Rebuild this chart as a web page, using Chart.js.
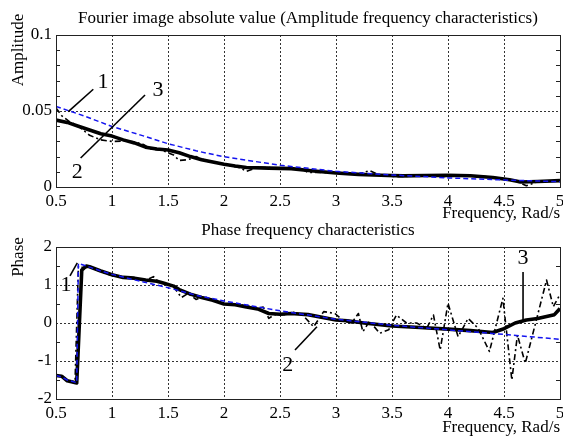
<!DOCTYPE html>
<html>
<head>
<meta charset="utf-8">
<script src="https://cdn.jsdelivr.net/npm/chart.js@4.4.0/dist/chart.umd.min.js"></script>
<style>
  html, body { margin: 0; padding: 0; background: #fff; }
  #wrap { position: relative; width: 563px; height: 436px; overflow: hidden; }
  canvas { position: absolute; left: 0; }
  #ampCanvas { top: 0; }
  #phaseCanvas { top: 222px; }
</style>
</head>
<body>
<div id="wrap">
  <canvas id="ampCanvas" width="563" height="228"></canvas>
  <canvas id="phaseCanvas" width="563" height="214"></canvas>
</div>
<script>
// --- amplitude plot (top) ---
// 1: model (blue dashed), 2: raw estimate (dash-dot), 3: smoothed estimate (thick)
const ampFreq1 = [0.5, 0.75, 1, 1.25, 1.5, 1.75, 2, 2.5, 3, 3.5, 4, 4.5, 5];
const ampCurve1 = [0.053, 0.0468, 0.0398, 0.0343, 0.0285, 0.0238, 0.0199, 0.0143, 0.0103, 0.0079, 0.006, 0.0046, 0.0035];

const ampFreq2 = [0.5, 0.55, 0.62, 0.7, 0.75, 0.8, 0.9, 1.0, 1.1, 1.2, 1.28, 1.35, 1.45, 1.55, 1.6, 1.68, 1.75, 1.85, 2.0, 2.15, 2.2, 2.3, 2.5, 2.7, 2.75, 2.9, 3.0, 3.2, 3.3, 3.4, 3.55, 3.8, 3.95, 4.1, 4.3, 4.5, 4.62, 4.7, 4.8, 5.0];
const ampCurve2 = [0.052, 0.047, 0.043, 0.04, 0.037, 0.034, 0.031, 0.03, 0.0302, 0.0298, 0.028, 0.025, 0.024, 0.021, 0.0175, 0.018, 0.02, 0.017, 0.015, 0.0125, 0.0102, 0.013, 0.0125, 0.0115, 0.0095, 0.0095, 0.009, 0.0085, 0.0108, 0.0075, 0.0068, 0.0075, 0.0068, 0.0078, 0.0072, 0.0055, 0.0035, 0.0008, 0.0035, 0.0042];

const ampFreq3 = [0.5, 0.6, 0.7, 0.8, 0.9, 1.0, 1.1, 1.2, 1.3, 1.4, 1.5, 1.6, 1.7, 1.8, 1.9, 2.0, 2.1, 2.2, 2.4, 2.6, 2.8, 3.0, 3.2, 3.4, 3.6, 3.8, 4.0, 4.2, 4.4, 4.55, 4.65, 4.8, 5.0];
const ampCurve3 = [0.044, 0.0425, 0.04, 0.0375, 0.035, 0.0335, 0.031, 0.029, 0.0262, 0.025, 0.0243, 0.0225, 0.02, 0.018, 0.0165, 0.015, 0.0138, 0.0128, 0.0124, 0.0121, 0.0105, 0.0092, 0.0083, 0.0077, 0.0073, 0.0076, 0.0077, 0.0074, 0.0062, 0.0048, 0.0033, 0.0036, 0.0042];

const ampTicks = [0, 0.05, 0.1];
const ampMinor = [0.01, 0.02, 0.03, 0.04, 0.06, 0.07, 0.08, 0.09];

// --- phase plot (bottom) ---
const phFreq1 = [0.5, 0.55, 0.6, 0.685, 0.7, 0.8, 0.9, 1.0, 1.25, 1.5, 1.75, 2.0, 2.25, 2.5, 3.0, 3.5, 4.0, 4.5, 5.0];
const phCurve1 = [-1.38, -1.42, -1.5, -1.57, 1.57, 1.47, 1.37, 1.28, 1.1, 0.93, 0.73, 0.58, 0.45, 0.32, 0.1, -0.06, -0.18, -0.3, -0.43];

const phFreq2 = [0.5, 0.55, 0.6, 0.67, 0.7, 0.75, 0.8, 0.9, 1.0, 1.1, 1.2, 1.3, 1.37, 1.42, 1.5, 1.55, 1.62, 1.68, 1.75, 1.82, 1.9, 2.0, 2.1, 2.2, 2.28, 2.35, 2.4, 2.45, 2.55, 2.62, 2.7, 2.8, 2.89, 2.99, 3.07, 3.14, 3.2, 3.24, 3.3, 3.39, 3.47, 3.54, 3.63, 3.72, 3.81, 3.87, 3.93, 4.0, 4.09, 4.18, 4.27, 4.37, 4.49, 4.57, 4.62, 4.69, 4.88, 4.94, 5.0];
const phCurve2 = [-1.38, -1.4, -1.52, -1.55, 1.5, 1.45, 1.47, 1.35, 1.25, 1.2, 1.17, 1.12, 1.22, 1.07, 1.02, 0.95, 0.67, 0.78, 0.62, 0.7, 0.6, 0.5, 0.47, 0.47, 0.36, 0.42, 0.12, 0.22, 0.22, 0.28, 0.22, -0.1, 0.3, 0.25, 0.05, 0.0, 0.25, -0.23, 0.05, -0.27, -0.18, 0.21, 0.0, 0.0, -0.14, 0.21, -0.71, 0.52, -0.36, 0.12, -0.14, -0.75, 0.65, -1.5, -0.32, -1.06, 1.13, 0.43, 0.75];

const phFreq3 = [0.5, 0.55, 0.6, 0.685, 0.73, 0.77, 0.8, 0.9, 1.0, 1.1, 1.2, 1.3, 1.4, 1.45, 1.55, 1.6, 1.7, 1.8, 1.9, 2.0, 2.1, 2.2, 2.3, 2.4, 2.5, 2.6, 2.75, 3.0, 3.1, 3.25, 3.5, 3.75, 4.0, 4.2, 4.4, 4.5, 4.6, 4.7, 4.8, 4.95, 5.0];
const phCurve3 = [-1.38, -1.4, -1.52, -1.58, 1.39, 1.5, 1.48, 1.37, 1.27, 1.2, 1.18, 1.13, 1.1, 1.06, 0.97, 0.88, 0.76, 0.67, 0.6, 0.5, 0.48, 0.42, 0.37, 0.25, 0.23, 0.25, 0.22, 0.08, 0.06, 0.0, -0.08, -0.12, -0.16, -0.2, -0.25, -0.15, 0.0, 0.08, 0.12, 0.22, 0.38];

const phTicks = [-2, -1, 0, 1, 2];
const phMinor = [-1.5, -0.5, 0.5, 1.5];

const freqTicks = [0.5, 1, 1.5, 2, 2.5, 3, 3.5, 4, 4.5, 5];

// curve labels with leader lines, in data units
const ampNotes = [
  { text: '1', x: 0.92, y: 0.069, from: [0.833, 0.0643], to: [0.61, 0.0496] },
  { text: '3', x: 1.41, y: 0.0638, from: [1.295, 0.0605], to: [0.72, 0.0191] },
  { text: '2', x: 0.69, y: 0.0099, from: null, to: null }
];
const phNotes = [
  { text: '1', x: 0.59, y: 1.0, from: [0.625, 1.24], to: [0.69, 1.58] },
  { text: '2', x: 2.57, y: -1.1, from: [2.634, -0.71], to: [2.83, -0.1] },
  { text: '3', x: 4.67, y: 1.71, from: [4.67, 1.34], to: [4.67, 0.08] }
];

Chart.defaults.font.family = "'Liberation Serif', 'Times New Roman', serif";
Chart.defaults.font.size = 17;
Chart.defaults.color = '#000';

const pts = (xs, ys) => xs.map((x, i) => ({ x: x, y: ys[i] }));

const matlabAxes = {
  id: 'matlabAxes',
  beforeDatasetsDraw(chart, args, o) {
    const { ctx, chartArea: a, scales: { x, y } } = chart;
    ctx.save();
    ctx.strokeStyle = '#333';
    ctx.lineWidth = 1;
    ctx.setLineDash([2, 2]);
    ctx.beginPath();
    freqTicks.forEach(v => {
      const px = Math.round(x.getPixelForValue(v)) + 0.5;
      if (px > a.left + 2 && px < a.right - 2) { ctx.moveTo(px, a.top); ctx.lineTo(px, a.bottom); }
    });
    o.yTicks.forEach(v => {
      const py = Math.round(y.getPixelForValue(v)) + 0.5;
      if (py > a.top + 2 && py < a.bottom - 2) { ctx.moveTo(a.left, py); ctx.lineTo(a.right, py); }
    });
    ctx.stroke();
    ctx.restore();
  },
  afterDatasetsDraw(chart, args, o) {
    const { ctx, chartArea: a, scales: { x, y } } = chart;
    ctx.save();
    // frame + minor ticks
    ctx.strokeStyle = '#222';
    ctx.lineWidth = 1;
    ctx.setLineDash([]);
    ctx.strokeRect(Math.round(a.left) + 0.5, Math.round(a.top) + 0.5, Math.round(a.right - a.left), Math.round(a.bottom - a.top));
    ctx.beginPath();
    o.yMinor.forEach(v => {
      const py = Math.round(y.getPixelForValue(v)) + 0.5;
      ctx.moveTo(a.left, py); ctx.lineTo(a.left + 4, py);
      ctx.moveTo(a.right, py); ctx.lineTo(a.right - 4, py);
    });
    ctx.stroke();

    // texts
    ctx.fillStyle = '#000';
    ctx.font = "17px 'Liberation Serif'";
    ctx.textAlign = 'center';
    ctx.textBaseline = 'middle';
    ctx.fillText(o.title, (a.left + a.right) / 2, a.top - o.titleGap);
    ctx.textAlign = 'right';
    ctx.fillText(o.xTitle, a.right, a.bottom + o.xTitleGap);
    ctx.save();
    ctx.translate(o.yTitleX, a.top + o.yTitleDy);
    ctx.rotate(-Math.PI / 2);
    ctx.textAlign = 'center';
    ctx.fillText(o.yTitle, 0, 0);
    ctx.restore();

    // curve numbers
    ctx.font = "22px 'Liberation Serif'";
    ctx.textAlign = 'center';
    ctx.lineWidth = 1.6;
    ctx.strokeStyle = '#000';
    o.notes.forEach(n => {
      ctx.fillText(n.text, x.getPixelForValue(n.x), y.getPixelForValue(n.y));
      if (n.from) {
        ctx.beginPath();
        ctx.moveTo(x.getPixelForValue(n.from[0]), y.getPixelForValue(n.from[1]));
        ctx.lineTo(x.getPixelForValue(n.to[0]), y.getPixelForValue(n.to[1]));
        ctx.stroke();
      }
    });
    ctx.restore();
  }
};

function makeChart(id, c) {
  return new Chart(document.getElementById(id), {
    type: 'line',
    data: {
      datasets: [
        { data: pts(c.f1, c.v1), borderColor: '#1414f0', borderWidth: 1.5, borderDash: [5, 3], order: 1 },
        { data: pts(c.f2, c.v2), borderColor: '#000', borderWidth: 1.6, borderDash: [6, 3, 2, 3], order: 2 },
        { data: pts(c.f3, c.v3), borderColor: '#000', borderWidth: 3.6, order: 3 }
      ]
    },
    options: {
      responsive: false,
      animation: false,
      layout: { padding: { top: c.top, right: 3, left: 0, bottom: 0 } },
      elements: {
        point: { radius: 0 },
        line: { tension: 0, borderJoinStyle: 'round', borderCapStyle: 'butt' }
      },
      plugins: {
        legend: { display: false },
        tooltip: { enabled: false },
        matlabAxes: {
          yTicks: c.yTicks, yMinor: c.yMinor, notes: c.notes,
          title: c.title, titleGap: 16,
          xTitle: 'Frequency, Rad/s', xTitleGap: c.xTitleGap,
          yTitle: c.yTitle, yTitleX: 19, yTitleDy: c.yTitleDy
        }
      },
      scales: {
        x: {
          type: 'linear', min: 0.5, max: 5,
          grid: { display: false, drawTicks: false }, border: { display: false },
          afterFit: s => { s.height = c.xh; s.paddingLeft = 0; s.paddingRight = 0; },
          ticks: { stepSize: 0.5, padding: 4, maxRotation: 0, autoSkip: false, callback: v => String(+v.toFixed(2)) }
        },
        y: {
          type: 'linear', min: c.yTicks[0], max: c.yTicks[c.yTicks.length - 1],
          grid: { display: false, drawTicks: false }, border: { display: false },
          afterFit: s => { s.width = 56; s.paddingTop = 0; s.paddingBottom = 0; },
          ticks: { stepSize: c.yTicks[1] - c.yTicks[0], padding: 4, callback: v => String(+v.toFixed(2)) }
        }
      }
    },
    plugins: [matlabAxes]
  });
}

makeChart('ampCanvas', {
  f1: ampFreq1, v1: ampCurve1, f2: ampFreq2, v2: ampCurve2, f3: ampFreq3, v3: ampCurve3,
  yTicks: ampTicks, yMinor: ampMinor, notes: ampNotes,
  title: 'Fourier image absolute value (Amplitude frequency characteristics)',
  yTitle: 'Amplitude', yTitleDy: 15,
  top: 35, xh: 41, xTitleGap: 27
});

makeChart('phaseCanvas', {
  f1: phFreq1, v1: phCurve1, f2: phFreq2, v2: phCurve2, f3: phFreq3, v3: phCurve3,
  yTicks: phTicks, yMinor: phMinor, notes: phNotes,
  title: 'Phase frequency characteristics',
  yTitle: 'Phase', yTitleDy: 10,
  top: 25, xh: 37, xTitleGap: 29
});
</script>
</body>
</html>
